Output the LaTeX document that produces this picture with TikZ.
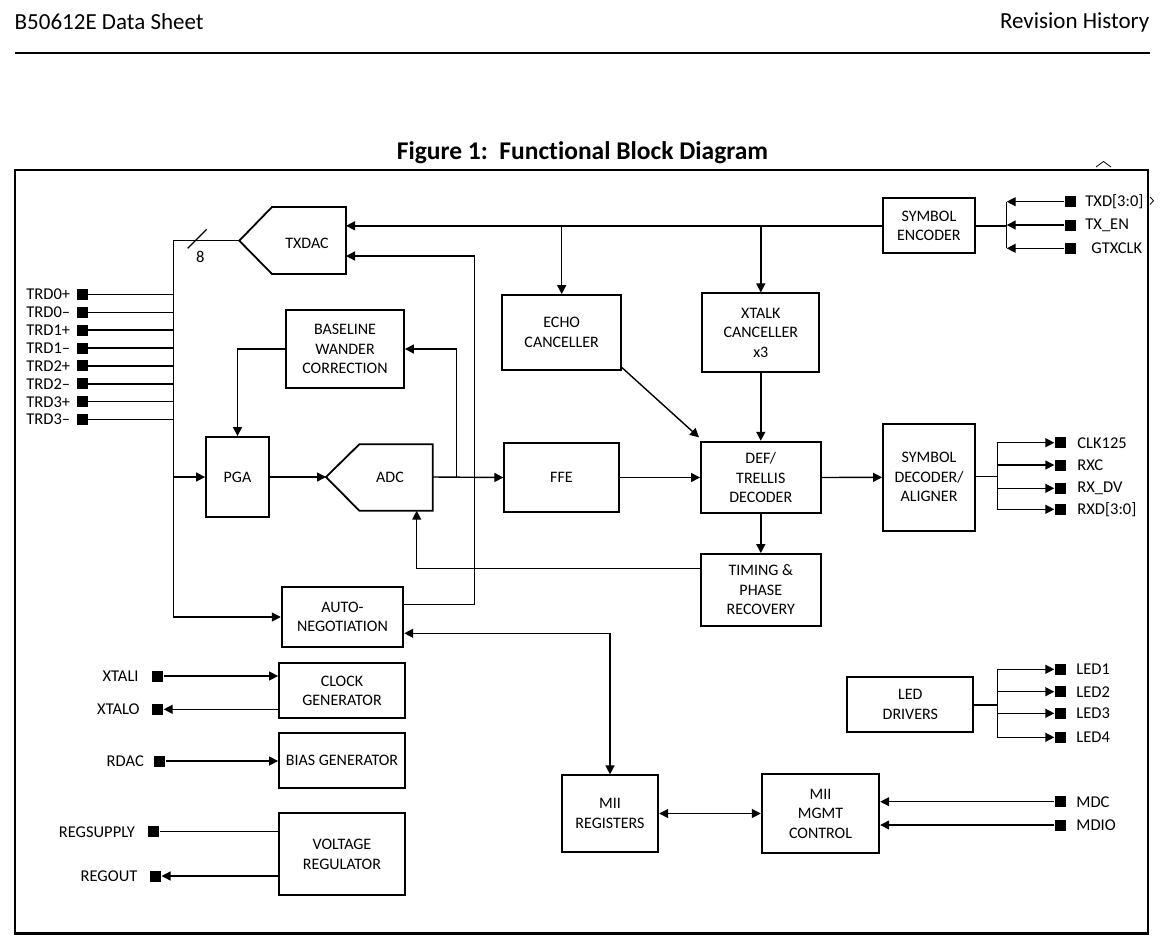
\documentclass[tikz,border=0pt]{standalone}
\usepackage{fontspec}
\setmainfont{Carlito}[Ligatures=NoCommon]
\usetikzlibrary{arrows.meta,calc}
\newcommand\blkfont{\fontsize{16}{19.5}\selectfont}
\newcommand\pinfont{\fontsize{16.5}{19.5}\selectfont}
\newcommand\hdrfont{\fontsize{23}{27}\selectfont}
\newcommand\ttlfont{\fontsize{25.5}{30}\selectfont\bfseries}
\tikzset{
  blk/.style={draw, line width=1.8pt, align=center, inner sep=0pt, font=\blkfont},
  pin/.style={fill=black, draw=none, minimum size=11pt, inner sep=0pt},
  lbl/.style={font=\pinfont, inner sep=0pt},
  arr/.style={-{Triangle[length=9pt,width=9pt]}},
  darr/.style={{Triangle[length=9pt,width=9pt]}-{Triangle[length=9pt,width=9pt]}},
  wire/.style={line width=1.4pt}
}
\begin{document}
\begin{tikzpicture}[x=1pt,y=-1pt, line width=1.4pt]
\useasboundingbox (0,0) rectangle (1165,935);
% header
\node[anchor=west, font=\hdrfont, inner sep=0pt] (hl) at (14,22) {B50612E Data Sheet};
\node[anchor=east, font=\hdrfont, inner sep=0pt] (hr) at (1150,22) {Revision History};
\draw[line width=2pt] (15,53) -- (1150,53);
\node[font=\ttlfont, inner sep=0pt] (title) at (582.5,153) {Figure 1:\ \ Functional Block Diagram};
\draw[line width=2.5pt] (15,170) rectangle (1148,933.5);
\draw[line width=0.8pt] (1096,167) -- (1103.5,161.5) -- (1111,167);
\draw[line width=0.8pt] (1150,197) -- (1153.5,200.7) -- (1150,204.5);

% blocks
\node[blk, minimum width=92pt, minimum height=55pt] (enc) at (928.9,225.8) {SYMBOL\\ENCODER};
\node[blk, minimum width=118.7pt, minimum height=75pt] (echo) at (561.7,332.5) {ECHO\\CANCELLER};
\node[blk, minimum width=117pt, minimum height=78.7pt] (xtalk) at (760.8,332.7) {XTALK\\CANCELLER\\x3};
\node[blk, minimum width=119.7pt, minimum height=71.6pt] (def) at (760.8,477.5) {DEF/\\TRELLIS\\DECODER};
\node[blk, minimum width=114.4pt, minimum height=68.4pt] (ffe) at (561.5,477.5) {FFE};
\node[blk, minimum width=119.7pt, minimum height=72pt] (timing) at (760.8,590) {TIMING \&\\PHASE\\RECOVERY};
\node[blk, minimum width=92pt, minimum height=106.7pt] (dec) at (929,477.3) {SYMBOL\\DECODER/\\ALIGNER};
\node[blk, minimum width=63pt, minimum height=80pt] (pga) at (237.5,477) {PGA};
\node[blk, minimum width=118pt, minimum height=78pt] (bwc) at (345,349) {BASELINE\\WANDER\\CORRECTION};
\node[blk, minimum width=121.6pt, minimum height=59.4pt] (auto) at (342.5,617) {AUTO-\\NEGOTIATION};
\node[blk, minimum width=126pt, minimum height=55pt] (clk) at (342,690.8) {CLOCK\\GENERATOR};
\node[blk, minimum width=126pt, minimum height=54.4pt] (bias) at (342,760.5) {BIAS GENERATOR};
\node[blk, minimum width=126pt, minimum height=81.7pt] (vreg) at (342,854.2) {VOLTAGE\\REGULATOR};
\node[blk, minimum width=96.6pt, minimum height=76.4pt] (miireg) at (610,813.5) {MII\\REGISTERS};
\node[blk, minimum width=117.6pt, minimum height=79.3pt] (mgmt) at (820.5,813.7) {MII\\MGMT\\CONTROL};
\node[blk, minimum width=126pt, minimum height=55.3pt] (led) at (910.3,704.3) {LED\\DRIVERS};

% pentagon TXDAC
\coordinate (dacT) at (239.3,240.7);
\coordinate (dacE) at (346,240.7);
\draw[line width=1.8pt] (dacT) -- (272,207) -- (346,207) -- (346,274) -- (272,274) -- cycle;
\node[font=\blkfont, inner sep=0pt] (dactxt) at (307,243) {TXDAC};
% pentagon ADC
\coordinate (adcT) at (326,477);
\coordinate (adcE) at (432.7,477);
\coordinate (adcS) at (416.7,510.7);
\draw[line width=1.8pt] (adcT) -- (359.3,444.3) -- (432.7,444.3) -- (432.7,510.7) -- (359.3,510.7) -- cycle;
\node[font=\blkfont, inner sep=0pt] (adctxt) at (390,477) {ADC};

% TRD pins
\foreach \i/\t in {0/TRD0+,1/TRD0--,2/TRD1+,3/TRD1--,4/TRD2+,5/TRD2--,6/TRD3+,7/TRD3--}{
  \node[pin, label={[lbl, label distance=5pt]left:\t}] (trd\i) at (82,294.3+17.9*\i) {};
}
\coordinate (bus) at (173.3,240.7);
\draw[wire] (dacT) -- (bus) -- (bus |- auto.west);
\draw[wire, arr] (bus |- auto.west) -- (auto.west);
\draw[wire, arr] (bus |- pga.west) -- (pga.west);
\foreach \i in {0,...,7}{ \draw[wire] (trd\i.east) -- (trd\i -| bus); }
\draw[wire] (187.7,248.3) -- (206.7,229.3);
\node[lbl] (eight) at (200.3,257) {8};

% encoder to TXDAC and cancellers
\draw[wire, arr] (enc.west) -- (enc.west -| dacE);
\draw[wire, arr] (enc.west -| echo.north) -- (echo.north);
\draw[wire, arr] (enc.west -| xtalk.north) -- (xtalk.north);
% auto-neg out to TXDAC
\coordinate (aoj) at (474.7,604.3);
\draw[wire, arr] (auto.east |- aoj) -- (aoj) -- (474.7,256) -- (346,256);

% BWC loop
\draw[wire, arr] (bwc.west) -- (bwc.west -| pga.north) -- (pga.north);
\draw[wire, arr] (pga.east) -- (adcT);
\draw[wire, arr] (adcE) -- (ffe.west);
\coordinate (adj) at (456.7,477);
\draw[wire, arr] (adj) -- (adj |- bwc.east) -- (bwc.east);
% timing to ADC
\coordinate (tj) at (701,568.7);
\draw[wire, arr] (tj) -- (adcS |- tj) -- (adcS);

% DEF connections
\draw[wire, arr] (ffe.east) -- (def.west);
\draw[wire, arr] ($(echo.south east)+(0,-3.3)$) -- ($(def.north west)+(-1,-3.4)$);
\draw[wire, arr] (xtalk.south) -- (def.north);
\draw[wire, arr] (def.east) -- (dec.west);
\draw[wire, arr] (def.south) -- (timing.north);

% MII
\coordinate (mj) at (610,633.3);
\draw[wire, darr] (auto.east |- mj) -- (mj) -- (miireg.north);
\draw[wire, darr] (miireg.east) -- (mgmt.west |- miireg.east);

% left pins
\node[pin, label={[lbl, label distance=12pt]left:XTALI}] (xtali) at (157.5,676) {};
\node[pin, label={[lbl, label distance=11pt]left:XTALO}] (xtalo) at (157.5,709.3) {};
\node[pin, label={[lbl, label distance=9pt]left:RDAC}] (rdac) at (159.7,761) {};
\node[pin, label={[lbl, label distance=12pt]left:REGSUPPLY}] (regs) at (153.8,831.7) {};
\node[pin, label={[lbl, label distance=11pt]left:REGOUT}] (rego) at (155.3,876) {};
\draw[wire, arr] (xtali.east) -- (xtali -| clk.west);
\draw[wire, arr] (xtalo -| clk.west) -- (xtalo.east);
\draw[wire, arr] (rdac.east) -- (rdac -| bias.west);
\draw[wire] (regs.east) -- (regs -| vreg.west);
\draw[wire, arr] (rego -| vreg.west) -- (rego.east);

% right pins: decoder outputs
\foreach \n/\y/\t in {clkp/442.7/CLK125, rxc/465/RXC, rxdv/488.3/RX\_DV, rxd/509.3/RXD[3:0]}{
  \node[pin, label={[lbl, label distance=10pt]right:\t}] (\n) at (1060.5,\y) {};
}
\coordinate (dj) at (997.3,476.7);
\draw[wire] (dec.east |- dj) -- (dj);
\draw[wire] (dj |- clkp) -- (dj |- rxd);
\foreach \n in {clkp,rxc,rxdv,rxd}{ \draw[wire, arr] (dj |- \n) -- (\n.west); }

% LEDs
\foreach \n/\y/\t in {led1/669.3/LED1, led2/691.7/LED2, led3/713.3/LED3, led4/737.3/LED4}{
  \node[pin, label={[lbl, label distance=9pt]right:\t}] (\n) at (1060.5,\y) {};
}
\coordinate (lj) at (997.3,705);
\draw[wire] (led.east |- lj) -- (lj);
\draw[wire] (lj |- led1) -- (lj |- led4);
\foreach \n in {led1,led2,led3,led4}{ \draw[wire, arr] (lj |- \n) -- (\n.west); }

% MDC MDIO
\node[pin, label={[lbl, label distance=9pt]right:MDC}] (mdc) at (1060.5,801.7) {};
\node[pin, label={[lbl, label distance=9pt]right:MDIO}] (mdio) at (1060.5,825) {};
\draw[wire, arr] (mdc.west) -- (mdc -| mgmt.east);
\draw[wire, arr] (mdio.west) -- (mdio -| mgmt.east);

% TX inputs
\node[pin, label={[lbl, label distance=8pt]right:TXD[3:0]}] (txd) at (1070.5,201.7) {};
\node[pin, label={[lbl, label distance=8pt]right:TX\_EN}] (txen) at (1070.5,225) {};
\node[pin, label={[lbl, label distance=14pt]right:GTXCLK}] (gtx) at (1070.5,248.3) {};
\coordinate (ej) at (1006.7,225.8);
\draw[wire] (enc.east) -- (ej);
\draw[wire] (ej |- txd) -- (ej |- gtx);
\foreach \n in {txd,txen,gtx}{ \draw[wire, arr] (\n.west) -- (ej |- \n); }
\end{tikzpicture}
\end{document}
